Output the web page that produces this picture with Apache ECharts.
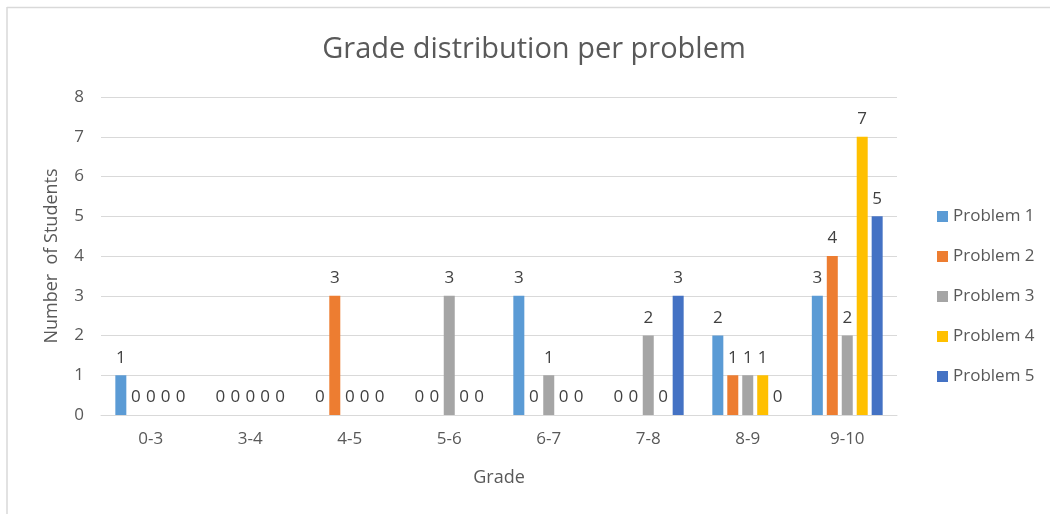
<!DOCTYPE html>
<html>
<head>
<meta charset="utf-8">
<script src="https://cdn.jsdelivr.net/npm/echarts@6/dist/echarts.min.js"></script>
<style>
  html, body { margin: 0; padding: 0; background: #fff; }
  #chart { width: 1050px; height: 514px; }
</style>
</head>
<body>
<div id="chart"></div>
<script>
// Grade buckets along the x axis
const grades = ['0-3', '3-4', '4-5', '5-6', '6-7', '7-8', '8-9', '9-10'];

// Number of students per grade bucket, one array per problem
const problem1 = [1, 0, 0, 0, 3, 0, 2, 3];
const problem2 = [0, 0, 3, 0, 0, 0, 1, 4];
const problem3 = [0, 0, 0, 3, 1, 2, 1, 2];
const problem4 = [0, 0, 0, 0, 0, 0, 1, 7];
const problem5 = [0, 0, 0, 0, 0, 3, 0, 5];

const seriesNames = ['Problem 1', 'Problem 2', 'Problem 3', 'Problem 4', 'Problem 5'];
const seriesData = [problem1, problem2, problem3, problem4, problem5];
const seriesColors = ['#5B9BD5', '#ED7D31', '#A5A5A5', '#FFC000', '#4472C4'];

const textColor = '#595959';
const fontFamily = "'Open Sans', 'Noto Sans', sans-serif";

const chart = echarts.init(document.getElementById('chart'), null, { renderer: 'canvas' });

chart.setOption({
  animation: false,
  backgroundColor: '#ffffff',
  textStyle: { fontFamily: fontFamily },
  title: {
    text: 'Grade distribution per problem',
    left: 529,
    textAlign: 'center',
    top: 30,
    textStyle: { color: textColor, fontSize: 29, fontWeight: 'normal', fontFamily: fontFamily }
  },
  legend: {
    orient: 'vertical',
    left: 932,
    top: 203,
    itemWidth: 11,
    itemHeight: 11,
    itemGap: 23,
    icon: 'rect',
    textStyle: { color: textColor, fontSize: 17, fontFamily: fontFamily },
    data: seriesNames
  },
  grid: {
    left: 101,
    right: 153,
    top: 97,
    bottom: 99,
    containLabel: false
  },
  xAxis: {
    type: 'category',
    data: grades,
    name: 'Grade',
    nameLocation: 'middle',
    nameGap: 54,
    nameTextStyle: { color: textColor, fontSize: 18, fontFamily: fontFamily },
    axisLine: { show: true, lineStyle: { color: '#d9d9d9', width: 1 } },
    axisTick: { show: false },
    axisLabel: { color: textColor, fontSize: 17, margin: 16, fontFamily: fontFamily }
  },
  yAxis: {
    type: 'value',
    min: 0,
    max: 8,
    interval: 1,
    name: 'Number  of Students',
    nameLocation: 'middle',
    nameGap: 40,
    nameTextStyle: { color: textColor, fontSize: 18, fontFamily: fontFamily },
    axisLine: { show: false },
    axisTick: { show: false },
    axisLabel: { color: textColor, fontSize: 17, margin: 17, fontFamily: fontFamily },
    splitLine: { lineStyle: { color: '#d9d9d9', width: 1 } }
  },
  series: seriesNames.map((name, i) => ({
    name: name,
    type: 'bar',
    data: seriesData[i],
    barWidth: 11,
    barGap: '36%',
    itemStyle: { color: seriesColors[i] },
    label: {
      show: true,
      position: 'top',
      distance: 9,
      color: '#404040',
      fontSize: 17,
      fontFamily: fontFamily
    }
  })),
  graphic: [
    {
      type: 'line',
      shape: { x1: 7, y1: 7.5, x2: 1050, y2: 7.5 },
      style: { stroke: '#d9d9d9', lineWidth: 1.5 }
    },
    {
      type: 'line',
      shape: { x1: 7, y1: 7, x2: 7, y2: 514 },
      style: { stroke: '#d9d9d9', lineWidth: 1.5 }
    }
  ]
});
</script>
</body>
</html>
